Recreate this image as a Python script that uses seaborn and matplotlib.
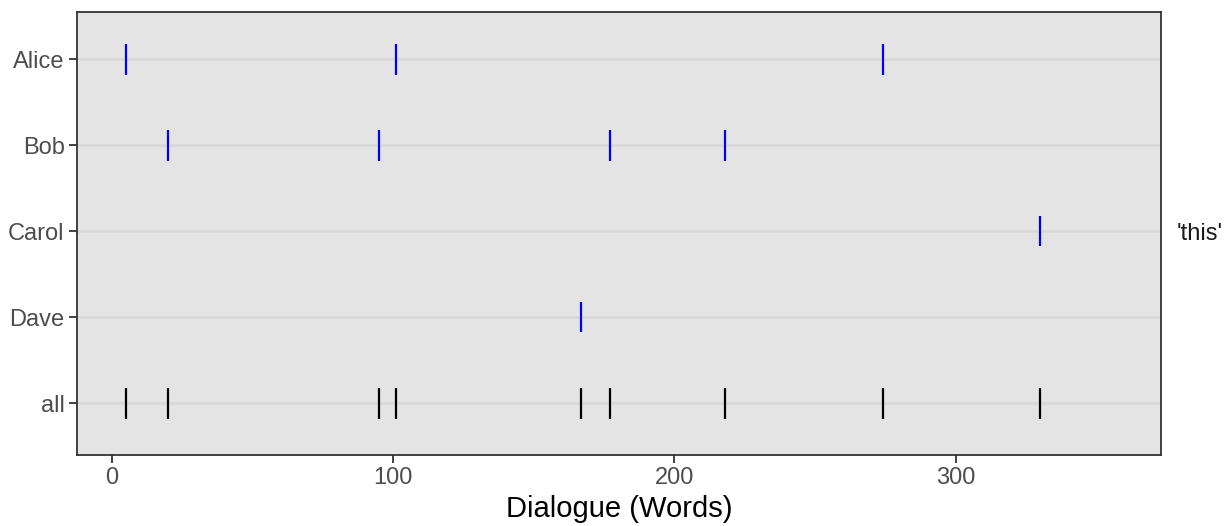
import pandas as pd
import seaborn as sns
import matplotlib.pyplot as plt

# word positions where each speaker says 'this'
speakers = ["Alice", "Bob", "Carol", "Dave", "all"]
alice_words = [5, 101, 274]
bob_words = [20, 95, 177, 218]
carol_words = [330]
dave_words = [167]
all_words = sorted(alice_words + bob_words + carol_words + dave_words)

rows = []
for name, words in [("Alice", alice_words), ("Bob", bob_words),
                    ("Carol", carol_words), ("Dave", dave_words)]:
    for w in words:
        rows.append({"speaker": name, "word": w, "grp": "person"})
for w in all_words:
    rows.append({"speaker": "all", "word": w, "grp": "all"})
df = pd.DataFrame(rows)

sns.set_theme(style="white")
plt.rcParams["font.family"] = ["Liberation Sans", "DejaVu Sans"]

fig = plt.figure(figsize=(12.29, 5.26), dpi=100)
ax = fig.add_axes([0.0627, 0.135, 0.8820, 0.842])

sns.stripplot(data=df, x="word", y="speaker", hue="grp", order=speakers,
              palette={"person": "#0000FF", "all": "#000000"},
              jitter=False, marker="|", size=22, linewidth=1.6,
              legend=False, ax=ax)

ax.set_facecolor("#E4E4E4")
ax.set_xlim(-12.3, 373)
ax.set_ylim(4.6, -0.55)
ax.set_xticks([0, 100, 200, 300])
ax.grid(axis="y", color="#D8D8D8", linewidth=1.8)
ax.grid(axis="x", visible=False)
ax.set_axisbelow(True)
for s in ax.spines.values():
    s.set_color("#333333")
    s.set_linewidth(1.3)

ax.tick_params(axis="both", colors="#333333", length=6, width=1.3, pad=3,
               labelcolor="#4D4D4D", labelsize=17, bottom=True, left=True)
ax.set_ylabel("")
ax.set_xlabel("Dialogue (Words)", fontsize=21, color="black", labelpad=4)

ax.text(1.036, 0.5, "'this'", transform=ax.transAxes, ha="center",
        va="center", fontsize=17, color="#1A1A1A")

fig.savefig("out.png", dpi=100)
